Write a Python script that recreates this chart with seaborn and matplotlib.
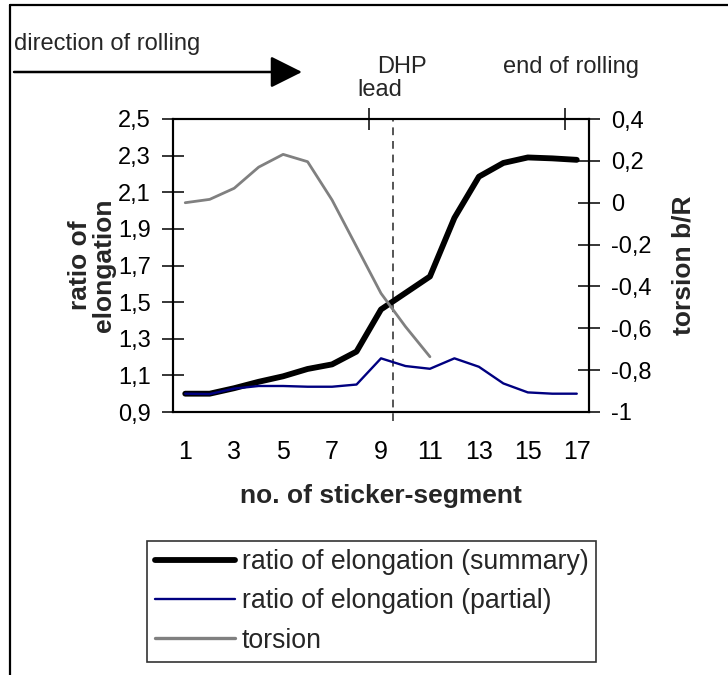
import numpy as np
import pandas as pd
import matplotlib
matplotlib.use("Agg")
import matplotlib.pyplot as plt
from matplotlib.lines import Line2D
from matplotlib.ticker import FixedLocator, FixedFormatter
import seaborn as sns

# ---- data ----
segments = list(range(1, 18))
summary = [1.00, 1.00, 1.03, 1.065, 1.095, 1.135, 1.16, 1.23, 1.46, 1.55,
           1.64, 1.96, 2.185, 2.26, 2.29, 2.285, 2.277]
partial = [1.00, 0.998, 1.028, 1.042, 1.042, 1.038, 1.038, 1.05, 1.193, 1.151,
           1.136, 1.193, 1.147, 1.056, 1.007, 1.00, 1.00]
torsion = [0.00, 0.016, 0.069, 0.17, 0.231, 0.196, 0.013, -0.21, -0.433, -0.592, -0.736]

x_tick_vals = [1, 3, 5, 7, 9, 11, 13, 15, 17]
x_tick_labels = ["1", "3", "5", "7", "9", "11", "13", "15", "17"]
left_tick_vals = [0.9, 1.1, 1.3, 1.5, 1.7, 1.9, 2.1, 2.3, 2.5]
left_tick_labels = ["0,9", "1,1", "1,3", "1,5", "1,7", "1,9", "2,1", "2,3", "2,5"]
right_tick_vals = [-1.0, -0.8, -0.6, -0.4, -0.2, 0.0, 0.2, 0.4]
right_tick_labels = ["-1", "-0,8", "-0,6", "-0,4", "-0,2", "0", "0,2", "0,4"]
dhp_position = 9.5

series_names = ["ratio of elongation (summary)", "ratio of elongation (partial)", "torsion"]

# ---- style ----
sns.set_style("white")
plt.rcParams["font.family"] = ["Liberation Sans", "DejaVu Sans"]
plt.rcParams["axes.unicode_minus"] = False

W, H = 728, 675
fig = plt.figure(figsize=(W / 100, H / 100), dpi=100)
fig.patch.set_facecolor("white")

def fx(px):
    return px / W

def fy(py):
    return 1 - py / H

ax = fig.add_axes([fx(173), fy(412), (589 - 173) / W, (412 - 119) / H])
ax.set_facecolor("white")

df = pd.DataFrame({"segment": segments, "summary": summary, "partial": partial})
dft = pd.DataFrame({"segment": segments[:len(torsion)], "torsion": torsion})

sns.lineplot(data=df, x="segment", y="summary", ax=ax, color="black", lw=4.2,
             label=series_names[0], legend=False, solid_capstyle="round", solid_joinstyle="round")
sns.lineplot(data=df, x="segment", y="partial", ax=ax, color="#000080", lw=1.7,
             label=series_names[1], legend=False, solid_joinstyle="round")

ax2 = ax.twinx()
sns.lineplot(data=dft, x="segment", y="torsion", ax=ax2, color="#808080", lw=2.0,
             label=series_names[2], legend=False, solid_joinstyle="round")

ax.axvline(dhp_position, ymin=-0.03, ymax=1, color="#555555", lw=1.4,
           ls=(0, (4, 3)), clip_on=False, zorder=1)

ax.set_xlim(0.5, 17.5)
ax.set_ylim(0.9, 2.5)
ax2.set_ylim(-1.0, 0.4)

# x ticks: labels at odd segments, tick marks at fixed positions
ax.xaxis.set_major_locator(FixedLocator(x_tick_vals))
ax.xaxis.set_major_formatter(FixedFormatter(x_tick_labels))
ax.xaxis.set_minor_locator(FixedLocator([0.5, 5, 9.5, 14]))
ax.tick_params(axis="x", which="major", length=0, pad=20, labelsize=18, colors="black")
ax.tick_params(axis="x", which="minor", direction="inout", length=16, width=1.1, color="black")
sec = ax.secondary_xaxis("top")
sec.set_xticks([8.5, 16.5])
sec.tick_params(direction="inout", length=16, width=1.1, labeltop=False, color="black")
sec.spines["top"].set_visible(False)

ax.yaxis.set_major_locator(FixedLocator(left_tick_vals))
ax.yaxis.set_major_formatter(FixedFormatter(left_tick_labels))
ax.tick_params(axis="y", which="major", direction="inout", length=16, width=1.1,
               pad=8, labelsize=17, left=True, colors="black")

ax2.yaxis.set_major_locator(FixedLocator(right_tick_vals))
ax2.yaxis.set_major_formatter(FixedFormatter(right_tick_labels))
ax2.tick_params(axis="y", which="major", direction="inout", length=16, width=1.1,
                pad=8, labelsize=17, right=True, colors="black")

for a in (ax, ax2):
    for s in a.spines.values():
        s.set_visible(True)
        s.set_color("black")
        s.set_linewidth(1.5)

ax.set_xlabel("no. of sticker-segment", fontsize=19, fontweight="bold", va="top")
ax.xaxis.set_label_coords(0.5, -0.245)
ax.set_ylabel("ratio of\nelongation", fontsize=19, fontweight="bold", va="center",
              ha="center", linespacing=1.0)
ax.yaxis.set_label_coords((92 - 173) / 416, 0.5)
ax2.set_ylabel("torsion b/R", fontsize=19, fontweight="bold", va="center", ha="center")
ax2.yaxis.set_label_coords((683 - 173) / 416, 0.5)

# legend
handles = [Line2D([], [], color="black", lw=4.2),
           Line2D([], [], color="#000080", lw=1.7),
           Line2D([], [], color="#808080", lw=2.4)]
leg = fig.legend(handles, series_names, loc="upper left",
                 bbox_to_anchor=(fx(147), fy(541)), bbox_transform=fig.transFigure,
                 fontsize=19.2, frameon=True, fancybox=False, shadow=False,
                 handlelength=3.0, handletextpad=0.25, labelspacing=0.5,
                 borderpad=0.3, borderaxespad=0)
leg.get_frame().set_edgecolor("black")
leg.get_frame().set_linewidth(1.2)

# annotations above the plot
fig.text(fx(14), fy(44), "direction of rolling", fontsize=17, ha="left", va="center")
fig.add_artist(matplotlib.patches.FancyArrowPatch(
    (fx(14), fy(72)), (fx(302), fy(72)), transform=fig.transFigure,
    arrowstyle="-|>,head_length=14,head_width=7", mutation_scale=1.4,
    color="black", lw=1.8, shrinkA=0, shrinkB=0))
fig.text(fx(402), fy(67), "DHP", fontsize=17, ha="center", va="center")
fig.text(fx(380), fy(90), "lead", fontsize=17, ha="center", va="center")
fig.text(fx(571), fy(67), "end of rolling", fontsize=17, ha="center", va="center")

# outer frame (top and left edges)
fig.add_artist(Line2D([fx(10), 1], [fy(5), fy(5)], transform=fig.transFigure,
                      color="black", lw=1.6))
fig.add_artist(Line2D([fx(10), fx(10)], [fy(5), 0], transform=fig.transFigure,
                      color="black", lw=1.6))

fig.savefig("out.png", dpi=100, facecolor="white")
